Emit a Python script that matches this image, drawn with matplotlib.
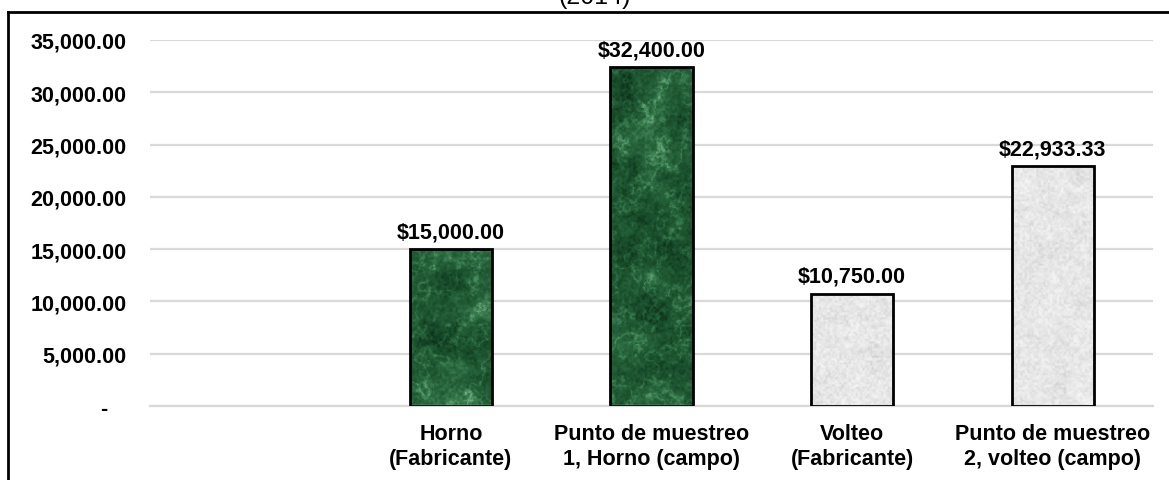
import numpy as np
import matplotlib
matplotlib.use("Agg")
import matplotlib.pyplot as plt
from matplotlib.colors import LinearSegmentedColormap
from matplotlib.lines import Line2D
from matplotlib.ticker import FixedLocator, FuncFormatter

plt.rcParams['font.family'] = ['Liberation Sans', 'DejaVu Sans']

categories = ["", "Horno\n(Fabricante)", "Punto de muestreo\n1, Horno (campo)",
              "Volteo\n(Fabricante)", "Punto de muestreo\n2, volteo (campo)"]
costs = [np.nan, 15000.00, 32400.00, 10750.00, 22933.33]
textures = [None, "marble", "marble", "granite", "granite"]
y_ticks = [0, 5000, 10000, 15000, 20000, 25000, 30000, 35000]
title = "(2014)"


def hash2(ix, iy):
    v = np.sin(ix * 127.1 + iy * 311.7) * 43758.5453
    return v - np.floor(v)


def value_noise(x, y):
    ix, iy = np.floor(x), np.floor(y)
    fx, fy = x - ix, y - iy
    fx = fx * fx * (3 - 2 * fx)
    fy = fy * fy * (3 - 2 * fy)
    a = hash2(ix, iy)
    b = hash2(ix + 1, iy)
    c = hash2(ix, iy + 1)
    d = hash2(ix + 1, iy + 1)
    return (a * (1 - fx) + b * fx) * (1 - fy) + (c * (1 - fx) + d * fx) * fy


def fbm(x, y, octaves=5):
    total, amp, norm = 0.0, 1.0, 0.0
    for _ in range(octaves):
        total = total + amp * value_noise(x, y)
        norm += amp
        x, y = x * 2.03, y * 2.03
        amp *= 0.55
    return total / norm


def make_texture(kind, w, h, seed):
    yy, xx = np.mgrid[0:h, 0:w].astype(float)
    xx += seed * 97.0
    yy += seed * 53.0
    if kind == "marble":
        clouds = fbm(xx / 30.0, yy / 30.0, 6)
        warp = fbm(xx / 14.0 + 3.1, yy / 14.0 + 7.7, 4)
        veins = 1 - np.abs(np.sin((xx * 0.8 + yy) / 22.0 + 7 * warp))
        fine = fbm(xx / 2.5, yy / 2.5, 2)
        v = 0.55 * clouds + 0.2 * veins ** 3 + 0.25 * fine
        cmap = LinearSegmentedColormap.from_list(
            "marble", ["#0a2b15", "#184c2a", "#26633b", "#438657", "#7cb890"])
    else:
        t = fbm(xx / 2.5, yy / 2.5, 3)
        big = fbm(xx / 20.0, yy / 20.0, 3)
        v = 0.7 * t + 0.3 * big
        cmap = LinearSegmentedColormap.from_list(
            "granite", ["#cdcdcd", "#e0e0e0", "#ececec", "#f8f8f8"])
    v = (v - v.min()) / (v.max() - v.min())
    return cmap(v)


fig = plt.figure(figsize=(11.69, 4.81), dpi=100)
ax = fig.add_axes([0.1283, 0.1538, 0.858, 0.761])

x = np.arange(len(categories))
bars = ax.bar(x, costs, width=0.41, facecolor="none", edgecolor="black",
              linewidth=2, zorder=3)

for i, (bar, kind) in enumerate(zip(bars, textures)):
    if kind is None:
        continue
    x0, w, hgt = bar.get_x(), bar.get_width(), bar.get_height()
    tex = make_texture(kind, 90, int(hgt / 5000 * 55), i)
    im = ax.imshow(tex, extent=[x0, x0 + w, 0, hgt], aspect="auto",
                   interpolation="bilinear", zorder=2)
    im.set_clip_path(bar)
    ax.annotate(f"${costs[i]:,.2f}", (x[i], costs[i]), xytext=(0, 5),
                textcoords="offset points", ha="center", va="bottom",
                fontsize=15.5, fontweight="bold")

ax.set_xlim(-0.5, len(categories) - 0.5)
ax.set_ylim(0, 35000)
ax.yaxis.set_major_locator(FixedLocator(y_ticks))
ax.yaxis.set_major_formatter(FuncFormatter(
    lambda v, p: "-   " if v == 0 else f"{v:,.2f}"))
ax.set_xticks(x)
ax.set_xticklabels(categories, fontsize=15.5, fontweight="bold", linespacing=1.2)
for lbl in ax.get_yticklabels():
    lbl.set_fontsize(15.5)
    lbl.set_fontweight("bold")

ax.grid(axis="y", color="#d9d9d9", linewidth=1.6, zorder=0)
ax.set_axisbelow(True)
for side in ["left", "right", "top"]:
    ax.spines[side].set_visible(False)
ax.spines["bottom"].set_color("#d9d9d9")
ax.spines["bottom"].set_linewidth(1.6)
ax.tick_params(axis="both", length=0)
ax.tick_params(axis="y", pad=17)
ax.tick_params(axis="x", pad=12.5)

# outer chart frame
W, H = 1169, 481
fig.add_artist(Line2D([7.5 / W, 1.0], [1 - 12.5 / H, 1 - 12.5 / H],
                      color="black", linewidth=2, transform=fig.transFigure))
fig.add_artist(Line2D([7.5 / W, 7.5 / W], [1 - 12.5 / H, 0.0],
                      color="black", linewidth=2, transform=fig.transFigure))

fig.text(595 / W, 1 - 9 / H, title, ha="center", va="bottom", fontsize=18)

fig.savefig("out.png", dpi=100)
